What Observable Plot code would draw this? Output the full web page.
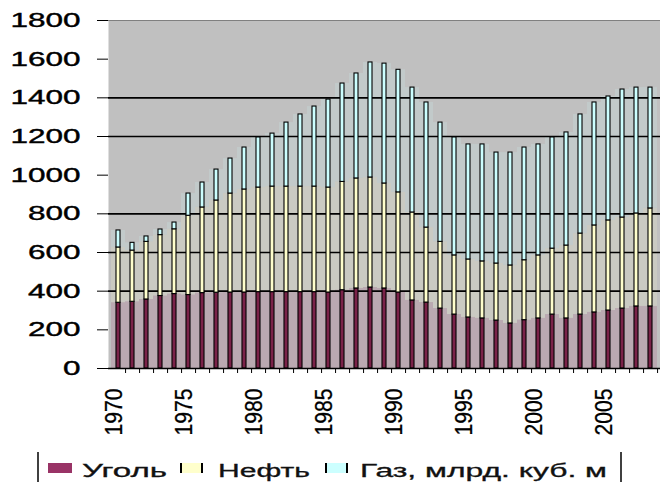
<!DOCTYPE html>
<html>
<head>
<meta charset="utf-8">
<script src="https://cdn.jsdelivr.net/npm/d3@7"></script>
<script src="https://cdn.jsdelivr.net/npm/@observablehq/plot@0.6"></script>
<style>
  html, body { margin: 0; padding: 0; background: #fff; }
  #chart svg { display: block; }
</style>
</head>
<body>
<div id="chart"></div>
<div id="legend"></div>
<script>
const years = [1970,1971,1972,1973,1974,1975,1976,1977,1978,1979,
               1980,1981,1982,1983,1984,1985,1986,1987,1988,1989,
               1990,1991,1992,1993,1994,1995,1996,1997,1998,1999,
               2000,2001,2002,2003,2004,2005,2006,2007,2008];
const coal = [340,345,357,375,385,380,390,392,393,393,
              395,395,395,395,395,393,405,414,419,414,
              393,352,341,310,279,264,259,248,233,250,
              259,279,259,279,290,300,310,321,321];
const oil  = [286,265,298,315,335,410,443,477,512,533,
              541,546,546,546,546,543,560,569,569,543,
              518,455,388,345,306,300,295,295,300,310,
              326,341,377,419,450,466,471,481,507];
const gas  = [88,40,28,29,35,115,129,160,181,217,
              259,274,331,373,414,455,509,543,595,620,
              634,646,647,617,610,595,605,574,584,583,
              574,575,585,616,636,641,662,651,625];
const fuels = ["Уголь", "Нефть", "Газ, млрд. куб. м"];
const fuelColors = ["#993366", "#ffffcc", "#ccffff"];
const barColors = ["#7a2248", "#ffffcc", "#ccffff"];
const yTicks = [0,200,400,600,800,1000,1200,1400,1600,1800];
const gridValues = [400,600,800,1200,1400];
const xLabelYears = [1970,1975,1980,1985,1990,1995,2000,2005];

const series = [coal, oil, gas];
const data = years.flatMap((yr, i) => fuels.map((f, k) => ({year: yr, fuel: f, value: series[k][i]})));

const W = 660, H = 445, mL = 108, mR = 0;
const bw = (W - mL - mR) / years.length;

const chart = Plot.plot({
  width: W, height: H,
  marginTop: 20, marginBottom: 77, marginLeft: mL, marginRight: mR,
  style: {background: "#fff", fontFamily: "'Liberation Sans', Arial, sans-serif", color: "#000"},
  x: {type: "band", domain: years, padding: 0, axis: null},
  y: {domain: [0, 1800], axis: null},
  color: {domain: fuels, range: fuelColors},
  marks: [
    Plot.frame({fill: "#c0c0c0", stroke: null}),
    Plot.barY(data, {x: "year", y: "value", fill: "fuel", fillOpacity: 0.16}),
    Plot.ruleY(gridValues, {stroke: "#000", strokeWidth: 1.6}),
    Plot.ruleY([1800], {stroke: "#808080", strokeWidth: 1.2}),
    Plot.barY(data, {x: "year", y: "value", fill: d => barColors[fuels.indexOf(d.fuel)], stroke: "#000", strokeWidth: 1.1, insetLeft: 5, insetRight: 5}),
    Plot.ruleY([0], {stroke: "#000", strokeWidth: 1.6}),
    Plot.axisY({ticks: yTicks, tickSize: 11, tickPadding: 17, fontSize: 20, tickFormat: d => String(d), label: null}),
    Plot.axisX({ticks: years, tickSize: 5, tickFormat: () => "", dx: bw / 2, label: null}),
    Plot.axisX({ticks: xLabelYears, tickSize: 0, tickRotate: -90, tickPadding: 20, fontSize: 23, tickFormat: d => String(d), dx: -4, label: null})
  ]
});
document.getElementById("chart").appendChild(chart);

// stretch tick labels to the reference's wide lettering
d3.select(chart).selectAll('g[aria-label="y-axis tick label"] text').each(function() {
  const t = this.textContent;
  this.setAttribute("textLength", t.length * 17.5);
  this.setAttribute("lengthAdjust", "spacingAndGlyphs");
  this.setAttribute("stroke", "#000");
  this.setAttribute("stroke-width", 0.4);
});
d3.select(chart).selectAll('g[aria-label="x-axis tick label"] text').each(function() {
  const t = this.textContent;
  if (t.length) {
    this.setAttribute("textLength", 47);
    this.setAttribute("lengthAdjust", "spacingAndGlyphs");
    this.setAttribute("stroke", "#000");
    this.setAttribute("stroke-width", 0.3);
  }
});

// legend below the chart
const lg = d3.create("svg").attr("width", W).attr("height", 484 - H)
  .style("display", "block").style("font-family", "'Liberation Sans', Arial, sans-serif");
const oy = -H;
lg.append("line").attr("x1", 38).attr("x2", 38).attr("y1", 452 + oy).attr("y2", 482 + oy).attr("stroke", "#000").attr("stroke-width", 1.5);
lg.append("line").attr("x1", 621).attr("x2", 621).attr("y1", 452 + oy).attr("y2", 482 + oy).attr("stroke", "#000").attr("stroke-width", 1.5);
const items = [
  {x: 48, w: 24, tx: 82, tl: 85, sides: false},
  {x: 180, w: 23, tx: 218, tl: 92, sides: true},
  {x: 325, w: 23, tx: 360, tl: 247, sides: true}
];
items.forEach((it, k) => {
  lg.append("rect").attr("x", it.x).attr("y", 463 + oy).attr("width", it.w).attr("height", 10)
    .attr("fill", fuelColors[k]);
  if (it.sides) {
    lg.append("line").attr("x1", it.x + 1).attr("x2", it.x + 1).attr("y1", 463 + oy).attr("y2", 473 + oy).attr("stroke", "#000").attr("stroke-width", 2);
    lg.append("line").attr("x1", it.x + it.w - 1).attr("x2", it.x + it.w - 1).attr("y1", 463 + oy).attr("y2", 473 + oy).attr("stroke", "#000").attr("stroke-width", 2);
  }
  lg.append("text").attr("x", it.tx).attr("y", 477 + oy).attr("font-size", 18).attr("fill", "#111")
    .attr("stroke", "#111").attr("stroke-width", 0.3)
    .attr("textLength", it.tl).attr("lengthAdjust", "spacingAndGlyphs").text(fuels[k]);
});
document.getElementById("legend").appendChild(lg.node());
</script>
</body>
</html>
